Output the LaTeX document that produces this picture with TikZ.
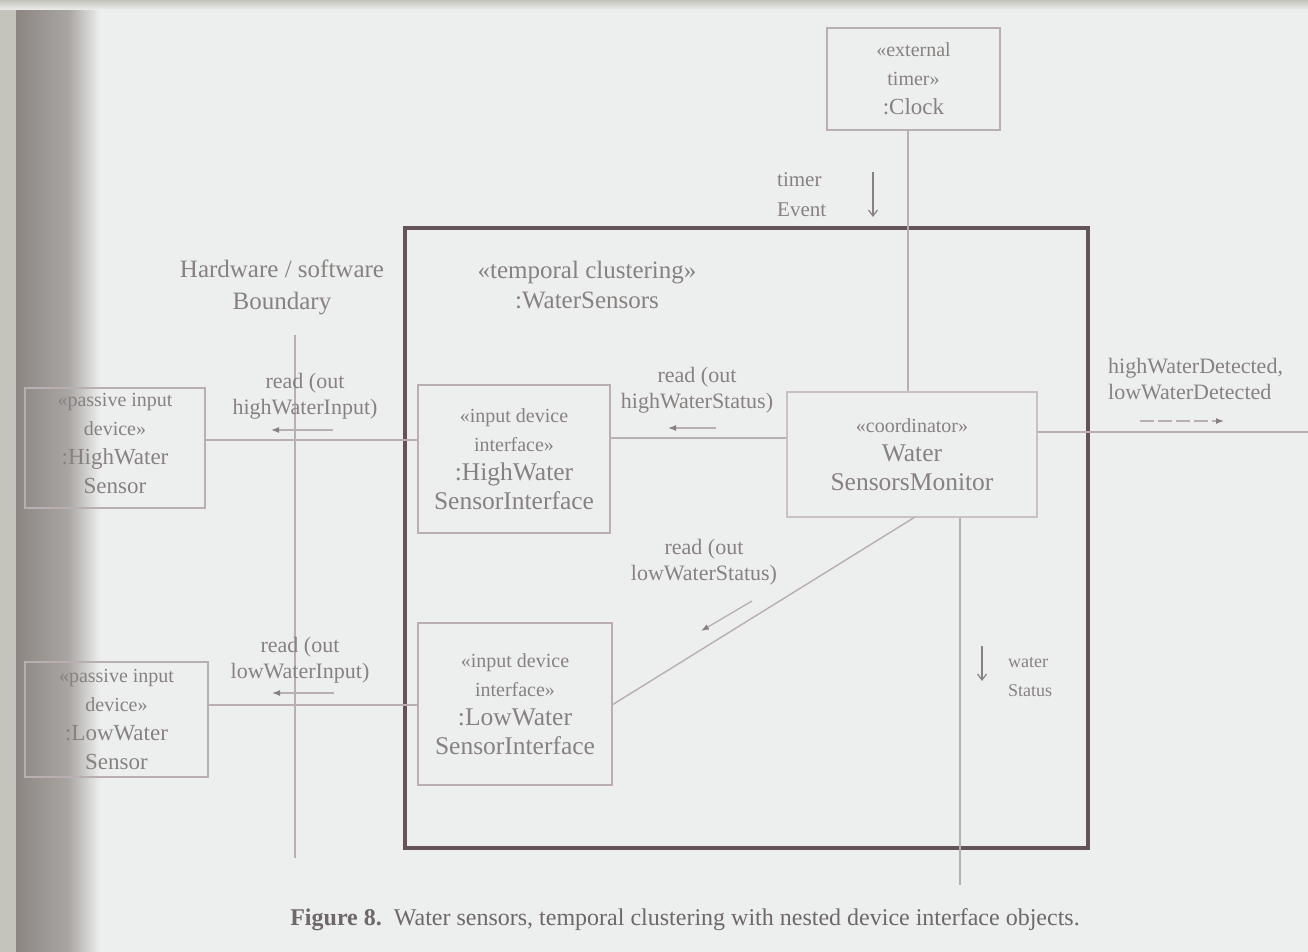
\documentclass[tikz,border=0pt]{standalone}
\usepackage{fontspec}
\setmainfont{Liberation Serif}
\usetikzlibrary{arrows.meta}

\definecolor{paper}{HTML}{EDEFEE}
\definecolor{ink}{HTML}{878181}
\definecolor{capink}{HTML}{6E6868}
\definecolor{wire}{HTML}{B9AEB2}
\definecolor{frame}{HTML}{65535A}
\definecolor{bandlight}{HTML}{C4C4BD}
\definecolor{banddark}{HTML}{8C8682}

\newcommand{\stf}{\fontsize{20}{29}\selectfont}
\newcommand{\nmf}{\fontsize{23}{31}\selectfont}
\newcommand{\ifn}{\fontsize{25.5}{33}\selectfont}
\newcommand{\lbf}{\fontsize{22}{26}\selectfont}

\tikzset{
  objbox/.style={draw=wire, line width=1.4pt, inner sep=0pt, align=center, text=ink, font=\stf},
  clusterbox/.style={draw=frame, line width=3.2pt, inner sep=0pt},
  wireline/.style={draw=wire, line width=1.4pt},
  msg/.style={draw=wire, line width=1.3pt, -{Latex[length=8pt,width=6pt,color=ink]}},
  flow/.style={draw=ink, line width=1.2pt, -{Straight Barb[length=6pt,width=9pt]}},
  lbl/.style={text=ink, align=center, font=\lbf, inner sep=0pt},
}

\begin{document}
\begin{tikzpicture}[x=1pt,y=-1pt]
\useasboundingbox (0,0) rectangle (1308,952);
% page background and the darker edges of the sheet
\fill[paper] (0,0) rectangle (1308,952);
\fill[bandlight] (0,0) rectangle (16,952);
\shade[left color=banddark, right color=banddark!70!paper] (16,0) rectangle (68,952);
\shade[left color=banddark!70!paper, right color=paper] (68,0) rectangle (100,952);
\shade[top color=bandlight, bottom color=paper] (0,0) rectangle (1308,10);

% temporal cluster frame
\node[clusterbox, minimum width=683pt, minimum height=620pt] (cluster) at (746.5,538) {};
\node[lbl, font=\fontsize{25}{30}\selectfont] (clustername) at (587,285)
  {«temporal clustering»\\:WaterSensors};

% hardware / software boundary
\node[lbl, font=\fontsize{25}{32}\selectfont] (hwsw) at (282,287) {Hardware / software\\Boundary};
\coordinate (bndtop) at (295,335);
\coordinate (bndbot) at (295,858);
\draw[wireline] (bndtop) -- (bndbot);

% objects
\node[objbox, minimum width=173pt, minimum height=102pt] (clock) at (913.5,79)
  {«external\\timer»\\\fontsize{23}{33}\selectfont :Clock};
\node[objbox, minimum width=180pt, minimum height=120pt] (hs) at (115,448)
  {«passive input\\device»\\\nmf :HighWater\\\nmf Sensor\\[-19pt]};
\node[objbox, minimum width=183pt, minimum height=115pt] (ls) at (116.5,719.5)
  {«passive input\\device»\\\nmf :LowWater\\\nmf Sensor};
\node[objbox, minimum width=192pt, minimum height=148pt] (hsi) at (514,459)
  {«input device\\interface»\\\ifn :HighWater\\\ifn SensorInterface};
\node[objbox, minimum width=194pt, minimum height=162pt] (lsi) at (515,704)
  {«input device\\interface»\\\ifn :LowWater\\\ifn SensorInterface};
\node[objbox, draw=wire!70!paper, minimum width=250pt, minimum height=125pt] (mon) at (912,454.5)
  {«coordinator»\\\ifn Water\\\ifn SensorsMonitor};

% connectors
\coordinate (hirow) at (0,440);
\coordinate (hmrow) at (0,438);
\coordinate (lorow) at (0,705);
\coordinate (outrow) at (0,432);
\coordinate (clockx) at (908,0);
\coordinate (statx) at (960,0);
\coordinate (outend) at (1308,432);
\coordinate (statend) at (960,885);
\coordinate (diagtop) at (915,517);
\coordinate (diagbot) at (612,705);

\draw[wireline] (hs.east |- hirow) -- (hsi.west |- hirow);
\draw[wireline] (ls.east |- lorow) -- (lsi.west |- lorow);
\draw[wireline] (hsi.east |- hmrow) -- (mon.west |- hmrow);
\draw[wireline] (clock.south -| clockx) -- (mon.north -| clockx);
\draw[wireline] (mon.east |- outrow) -- (outend);
\draw[wireline] (mon.south -| statx) -- (statend);
\draw[wireline] (diagtop) -- (diagbot);

% message labels and direction arrows
\node[lbl] (m1) at (305,396) {read (out\\highWaterInput)};
\coordinate (m1a) at (333,430); \coordinate (m1b) at (271,430);
\draw[msg] (m1a) -- (m1b);

\node[lbl] (m2) at (697,390) {read (out\\highWaterStatus)};
\coordinate (m2a) at (716,428); \coordinate (m2b) at (668,428);
\draw[msg] (m2a) -- (m2b);

\node[lbl] (m3) at (704,562) {read (out\\lowWaterStatus)};
\coordinate (m3a) at (752,601); \coordinate (m3b) at (701,631);
\draw[msg] (m3a) -- (m3b);

\node[lbl] (m4) at (300,660) {read (out\\lowWaterInput)};
\coordinate (m4a) at (334,693); \coordinate (m4b) at (272,693);
\draw[msg] (m4a) -- (m4b);

\node[lbl, align=left, anchor=west] (m5) at (1108,379) {highWaterDetected,\\lowWaterDetected};
\coordinate (m5a) at (1140,421); \coordinate (m5b) at (1224,421);
\draw[msg, dash pattern=on 14pt off 4pt] (m5a) -- (m5b);

\node[lbl, align=left, anchor=west, font=\fontsize{21}{30}\selectfont] (tev) at (777,195) {timer\\Event};
\coordinate (teva) at (873,172); \coordinate (tevb) at (873,217);
\draw[flow] (teva) -- (tevb);

\node[lbl, align=left, anchor=west, font=\fontsize{18}{29}\selectfont] (wst) at (1008,677) {water\\Status};
\coordinate (wsta) at (982,646); \coordinate (wstb) at (982,681);
\draw[flow] (wsta) -- (wstb);

% caption
\node[text=capink, font=\fontsize{24}{27}\selectfont, inner sep=0pt] (caption) at (685,920)
  {\textbf{Figure 8.}\ \ Water sensors, temporal clustering with nested device interface objects.};
\end{tikzpicture}
\end{document}
